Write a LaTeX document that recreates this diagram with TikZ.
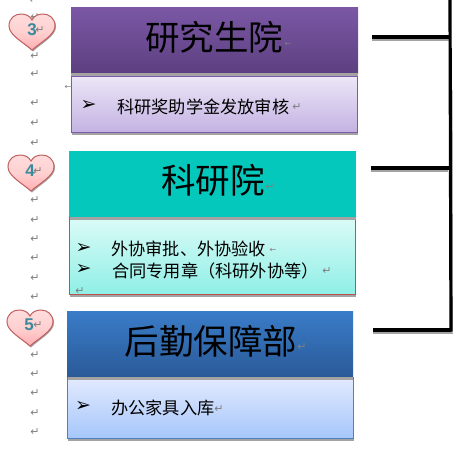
\documentclass[tikz,border=0pt]{standalone}
\usepackage{fontspec}
\newfontfamily\cjk{Noto Sans CJK SC}
\newfontfamily\sym{DejaVu Sans}
\setmainfont{Liberation Sans}
\usetikzlibrary{calc}
\definecolor{markgray}{HTML}{7F7F7F}
\definecolor{shadegray}{HTML}{A3A3A3}
\definecolor{heartedge}{HTML}{C0605F}
\definecolor{heartlight}{HTML}{FFDCDC}
\definecolor{heartmid}{HTML}{FFD0D0}
\definecolor{heartdark}{HTML}{FFAEB2}
\definecolor{digitcol}{HTML}{3A8A9E}
\definecolor{HA}{HTML}{7B57A5}
\definecolor{HB}{HTML}{5D4080}
\definecolor{BA}{HTML}{ECE6F7}
\definecolor{BB}{HTML}{C3B2E2}
\definecolor{EA}{HTML}{7A5CA8}
\definecolor{HC}{HTML}{05C8BD}
\definecolor{BC}{HTML}{DCFBF7}
\definecolor{BD}{HTML}{8EEFE6}
\definecolor{EB}{HTML}{C0504D}
\definecolor{HD}{HTML}{3A7CC8}
\definecolor{HE}{HTML}{2A5A98}
\definecolor{BE}{HTML}{E2EAFE}
\definecolor{BF}{HTML}{A5C6FB}
\definecolor{EC}{HTML}{4F81BD}
\tikzset{
  boxbase/.style={anchor=north west,inner sep=0pt,outer sep=0pt},
  headtext/.style={inner sep=0pt,font=\cjk\fontsize{34.5}{36}\selectfont,text=black},
  bodytext/.style={anchor=west,inner sep=0pt,font=\cjk\fontsize{17.2}{18}\selectfont,text=black},
  bullet/.style={anchor=center,inner sep=0pt,font=\sym\fontsize{19}{20}\selectfont,text=black},
  retmark/.style={inner sep=0pt,font=\sym\fontsize{11}{12}\selectfont,text=markgray},
  smallmark/.style={inner sep=0pt,font=\sym\fontsize{8}{9}\selectfont,text=markgray},
  digit/.style={inner sep=0pt,text=digitcol,font=\bfseries\fontsize{17}{18}\selectfont},
  rail/.style={line width=3.2pt,black,line cap=butt},
  railshadow/.style={line width=3pt,shadegray,line cap=butt},
  heartshape/.pic={
    \path[fill=shadegray] (24,37.5) .. controls (15,29) and (1,22) .. (1,13) .. controls (1,5) and (7,1.5) .. (13,1.5) .. controls (18,1.5) and (22,3) .. (24,7.5) .. controls (26,3) and (30,1.5) .. (35,1.5) .. controls (41,1.5) and (47,5) .. (47,13) .. controls (47,22) and (33,29) .. (24,37.5) -- cycle;
    \path[draw=heartedge,line width=1pt,top color=heartlight,bottom color=heartdark,middle color=heartmid]
      (23,36) .. controls (14,28) and (0,21) .. (0,12) .. controls (0,4) and (6,0) .. (12,0) .. controls (17,0) and (21,2) .. (23,6) .. controls (25,2) and (29,0) .. (34,0) .. controls (40,0) and (46,4) .. (46,12) .. controls (46,21) and (32,28) .. (23,36) -- cycle;
  }
}
\begin{document}
\begin{tikzpicture}[x=1pt,y=-1pt]
\useasboundingbox (0,0) rectangle (474,448);
\fill[white] (0,0) rectangle (474,448);

% paragraph marks
\foreach \mx/\my [count=\i] in {34/0,35/17,35/56,35/74,35/103,35/123,35/143,
   35/200,35/220,35/239,35/258,35/278,35/297,
   35/355,35/374,35/393,35/413,35/432}
  \node[retmark] (m\i) at (\mx,\my) {↵};
\node[smallmark] (m0) at (68,87) {←};

% hearts
\pic (h1) at (9,14) {heartshape};
\pic (h2) at (8,155) {heartshape};
\pic (h3) at (7,310) {heartshape};
\node[digit] (d1) at (32,30) {3};
\node[digit] (d2) at (30,171) {4};
\node[digit] (d3) at (29,325) {5};
\node[retmark] (dm1) at (40,30) {↵};
\node[retmark] (dm2) at (38,171) {↵};
\node[retmark] (dm3) at (38,325) {↵};

% --- box 1
\fill[shadegray] (72,75) rectangle (358,135);
\node[boxbase,minimum width=287pt,minimum height=66pt,top color=HA,bottom color=HB] at (71,7) (head1) {};
\path[fill=shadegray] (71,73) rectangle (358,77);
\node[boxbase,draw=EA,line width=0.8pt,minimum width=286pt,minimum height=56pt,top color=BA,bottom color=BB] at (71.5,76.5) (body1) {};
\node[headtext] (t1) at (214,37) {研究生院};
\node[smallmark] (t1m) at (288,44) {←};
\node[bullet] (b1) at (88.5,105) {➢};
\node[bodytext] (l1) at (117,107) {科研奖助学金发放审核};
\node[retmark] (l1m) at (297,107) {↵};

% --- box 2
\fill[shadegray] (70,218) rectangle (356,297);
\node[boxbase,minimum width=287pt,minimum height=66pt,fill=HC] at (69,151) (head2) {};
\node[boxbase,draw=EB,line width=0.8pt,minimum width=286pt,minimum height=77pt,top color=BC,bottom color=BD] at (69.5,217.5) (body2) {};
\path[fill=shadegray] (70,217) rectangle (356,220);
\node[headtext] (t2) at (213,180) {科研院};
\node[retmark] (t2m) at (270,187) {↵};
\node[bullet] (b2) at (83.5,248) {➢};
\node[bullet] (b3) at (83.5,269) {➢};
\node[bodytext] (l2) at (111,249) {外协审批、外协验收};
\node[bodytext] (l3) at (112,271) {合同专用章（科研外协等）};
\node[smallmark] (l2m) at (273,250) {←};
\node[retmark] (l3m) at (327,271) {↵};
\node[retmark] (l4m) at (80,291) {↵};

% --- box 3
\fill[shadegray] (68,378) rectangle (354,441);
\node[boxbase,minimum width=286pt,minimum height=66pt,top color=HD,bottom color=HE] at (67,311) (head3) {};
\node[boxbase,draw=EC,line width=0.8pt,minimum width=286pt,minimum height=61pt,top color=BE,bottom color=BF] at (67.5,377.5) (body3) {};
\path[fill=shadegray] (68,377) rectangle (353,380);
\node[headtext] (t3) at (211,341) {后勤保障部};
\node[retmark] (t3m) at (302,347) {↵};
\node[bullet] (b4) at (83,406) {➢};
\node[bodytext] (l5) at (111,408) {办公家具入库};
\node[retmark] (l5m) at (219,409) {↵};

% --- connector rails
\coordinate (top) at (450,0);
\coordinate (corner) at (451,331.5);
\coordinate (r1) at (372,37);
\coordinate (r2) at (371,168);
\coordinate (r3) at (373,330);
\draw[railshadow] ($(r1)+(0,2.5)$) -- ++(77,0);
\draw[railshadow] ($(r2)+(0,2)$) -- ++(77,0);
\draw[railshadow] ($(r3)+(0,2.5)$) -- ++(80,0);
\draw[line width=1.5pt,shadegray!60] (452.5,90) -- (452.5,333);
\draw[rail] (top) -- (corner);
\draw[rail] (r1) -- (r1 -| top);
\draw[rail] (r2) -- (r2 -| top);
\draw[rail] (r3) -- (r3 -| corner);
\end{tikzpicture}
\end{document}
